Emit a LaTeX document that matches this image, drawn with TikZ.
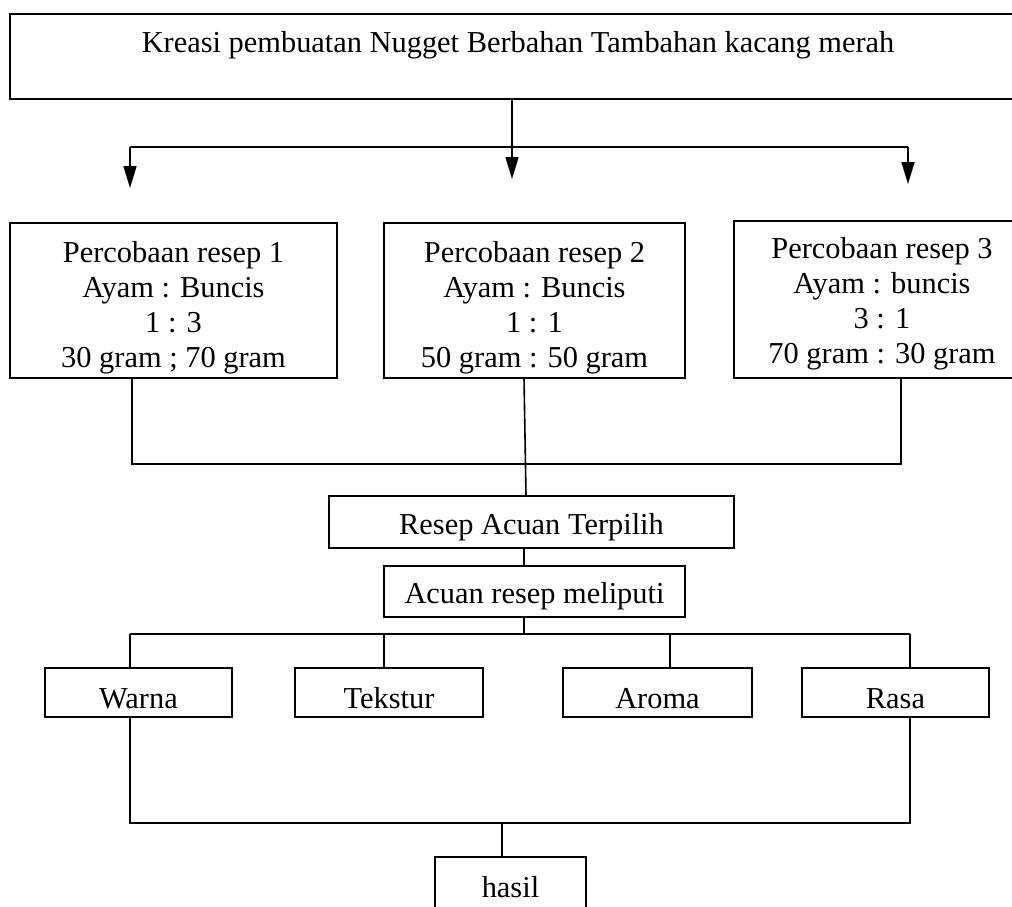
\documentclass[tikz,border=0pt]{standalone}
\usepackage{fontspec}
\setmainfont{Liberation Serif}
\usetikzlibrary{arrows.meta}
\begin{document}
\begin{tikzpicture}[x=1pt,y=-1pt,
  box/.style={draw,line width=1.6pt,rectangle,inner sep=0pt},
  txt/.style={inner sep=0pt,align=center,font=\fontsize{30.4}{35}\selectfont},
  ln/.style={line width=1.6pt},
  arr/.style={line width=1.6pt,-{Triangle[length=22pt,width=13pt]}}]
\clip (0,0) rectangle (1012,907);
\fill[white] (0,0) rectangle (1012,907);
% top box
\node[box,minimum width=1020pt,minimum height=85pt] (top) at (520,56.5) {};
\node[txt] (toptext) at (518,45) {Kreasi pembuatan Nugget Berbahan Tambahan kacang merah};
% junction and arrows
\coordinate (j0) at (512,147);
\coordinate (a1) at (130,188);
\coordinate (a2) at (512,179);
\coordinate (a3) at (908,184);
\draw[ln] (top.south -| j0) -- (j0);
\draw[ln] (a1 |- j0) -- (a3 |- j0);
\draw[arr] (j0) -- (a2);
\draw[arr] (a1 |- j0) -- (a1);
\draw[arr] (a3 |- j0) -- (a3);
% recipe boxes
\node[box,minimum width=327pt,minimum height=155pt] (r1) at (173.5,300.5) {};
\node[txt] (r1t) at (173.5,307.5) {Percobaan resep 1\\Ayam : Buncis\\1 : 3\\30 gram ; 70 gram};
\node[box,minimum width=301pt,minimum height=155pt] (r2) at (534.5,300.5) {};
\node[txt] (r2t) at (534.5,307.5) {Percobaan resep 2\\Ayam : Buncis\\1 : 1\\50 gram : 50 gram};
\node[box,minimum width=296pt,minimum height=157pt] (r3) at (882,299.5) {};
\node[txt] (r3t) at (882,304) {Percobaan resep 3\\Ayam : buncis\\3 : 1\\70 gram : 30 gram};
% join
\coordinate (b1) at (132,464);
\coordinate (b3) at (901,464);
\coordinate (b2) at (526,464);
\draw[ln] (r1.south -| b1) -- (b1) -- (b3) -- (r3.south -| b3);
% selected recipe
\node[box,minimum width=405pt,minimum height=52pt] (sel) at (531.5,522) {};
\node[txt] (selt) at (531.5,527) {Resep Acuan Terpilih};
\coordinate (r2b) at (524,378);
\draw[ln] (r2b) -- (sel.north -| b2);
\node[box,minimum width=301pt,minimum height=51pt] (acu) at (534.5,591.5) {};
\node[txt] (acut) at (534.5,596.5) {Acuan resep meliputi};
\coordinate (c0) at (524,548);
\draw[ln] (c0) -- (acu.north -| c0);
% bus
\coordinate (d0) at (524,634);
\draw[ln] (acu.south -| d0) -- (d0);
\node[box,minimum width=187pt,minimum height=49pt] (w) at (138.5,692.5) {};
\node[txt] (wt) at (138.5,698.5) {Warna};
\node[box,minimum width=188pt,minimum height=49pt] (t) at (389,692.5) {};
\node[txt] (tt) at (389,698.5) {Tekstur};
\node[box,minimum width=189pt,minimum height=49pt] (a) at (657.5,692.5) {};
\node[txt] (at) at (657.5,698.5) {Aroma};
\node[box,minimum width=187pt,minimum height=49pt] (r) at (895.5,692.5) {};
\node[txt] (rt) at (895.5,698.5) {Rasa};
\coordinate (d1) at (130,634);
\coordinate (d2) at (384,634);
\coordinate (d3) at (670,634);
\coordinate (d4) at (910,634);
\draw[ln] (d1) -- (d4);
\draw[ln] (d1) -- (w.north -| d1);
\draw[ln] (d2) -- (t.north -| d2);
\draw[ln] (d3) -- (a.north -| d3);
\draw[ln] (d4) -- (r.north -| d4);
% result
\coordinate (e1) at (130,823);
\coordinate (e2) at (910,823);
\coordinate (e0) at (502,823);
\draw[ln] (w.south -| e1) -- (e1) -- (e2) -- (r.south -| e2);
\node[box,minimum width=151pt,minimum height=60pt] (h) at (510.5,887) {};
\node[txt] (ht) at (510.5,887) {hasil};
\draw[ln] (e0) -- (h.north -| e0);
\end{tikzpicture}
\end{document}
